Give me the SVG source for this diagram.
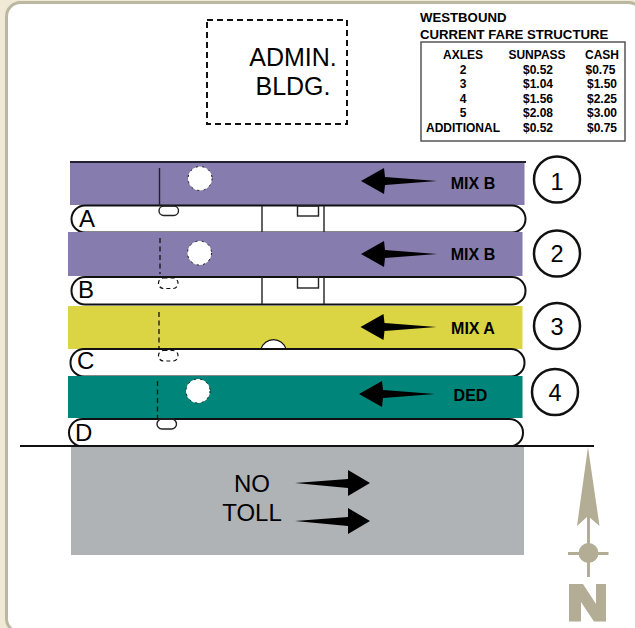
<svg xmlns="http://www.w3.org/2000/svg" width="635" height="628" viewBox="0 0 635 628">
<style>
.road{fill:#fff;stroke:#111;stroke-width:2}
.thin{fill:none;stroke:#222;stroke-width:1.400}
.dash{fill:none;stroke:#111;stroke-width:1.300;stroke-dasharray:5 3.500}
.sdash{fill:none;stroke:#111;stroke-width:1.200;stroke-dasharray:4 3}
.sans{font-family:"Liberation Sans",Arial,sans-serif;fill:#000}
.lbl{font-size:16px;font-weight:bold;text-anchor:middle}
.lane{font-size:24px}
.num{font-size:23.500px;text-anchor:middle}
.big{font-size:25px;text-anchor:middle}
.nt{font-size:24px;text-anchor:middle}
.tb{font-size:12px;font-weight:bold;text-anchor:middle}
.hd{font-size:13.200px;font-weight:bold}
.ci{fill:#fff;stroke:#111;stroke-width:2.500}
.hole{fill:#fff;stroke:#111;stroke-width:1;stroke-dasharray:2 4.500}
</style>
<defs>
<path id="wa" d="M0 0L23-13L24-4L76 0L24 4L23 13Z" fill="#000"/>
<path id="ea" d="M0 0L-22-13L-22-4L-75 0L-22 5L-22 13Z" fill="#000"/>
</defs>
<rect width="635" height="628" fill="#efe9d6"/>
<rect x="6.500" y="2.500" width="636" height="630" rx="14" fill="#fff" stroke="#bcb8a0" stroke-width="3"/>
<g id="admin">
<rect x="207" y="20" width="140" height="104" fill="none" stroke="#111" stroke-width="2" stroke-dasharray="6 4"/>
<text class="sans big" x="293" y="66">ADMIN.</text>
<text class="sans big" x="293" y="95">BLDG.</text>
</g>
<g id="fare-table">
<text class="sans hd" x="420" y="22">WESTBOUND</text>
<text class="sans hd" x="420" y="39">CURRENT FARE STRUCTURE</text>
<rect x="421" y="42" width="204" height="99" fill="#fff" stroke="#555" stroke-width="1.500"/>
<text class="sans tb" x="463" y="59">AXLES</text><text class="sans tb" x="537" y="59">SUNPASS</text><text class="sans tb" x="602" y="59">CASH</text>
<text class="sans tb" x="463" y="74">2</text><text class="sans tb" x="538" y="74">$0.52</text><text class="sans tb" x="600.500" y="74">$0.75</text>
<text class="sans tb" x="463" y="88">3</text><text class="sans tb" x="538" y="88">$1.04</text><text class="sans tb" x="602" y="88">$1.50</text>
<text class="sans tb" x="463" y="103">4</text><text class="sans tb" x="538" y="103">$1.56</text><text class="sans tb" x="602" y="103">$2.25</text>
<text class="sans tb" x="463" y="117">5</text><text class="sans tb" x="538" y="117">$2.08</text><text class="sans tb" x="602" y="117">$3.00</text>
<text class="sans tb" x="463" y="132">ADDITIONAL</text><text class="sans tb" x="538" y="132">$0.52</text><text class="sans tb" x="602" y="132">$0.75</text>
</g>
<g id="lane-1">
<rect x="70" y="162" width="454.500" height="43" fill="#867cad"/>
<path d="M70 162H526" stroke="#222133" stroke-width="2"/>
<rect class="road" x="71.500" y="205.500" width="454" height="27" rx="13.500"/>
<circle class="hole" cx="200" cy="178.500" r="12"/>
<path class="thin" d="M159.500 168V206"/>
<rect class="thin" x="159" y="206" width="19.500" height="9.500" rx="4.700"/>
<path class="thin" d="M262 206V232M324 206V232"/>
<rect class="thin" x="297.500" y="206" width="21" height="10"/>
<text class="sans lane" x="79" y="227">A</text>
<use href="#wa" x="361" y="181"/>
<text class="sans lbl" x="473" y="189">MIX B</text>
<circle class="ci" cx="557" cy="179.500" r="23"/><text class="sans num" x="557" y="190">1</text>
</g>
<g id="lane-2">
<rect x="68" y="232" width="454.500" height="44" fill="#867cad"/>
<rect class="road" x="71.500" y="277" width="454" height="27.500" rx="13.500"/>
<circle class="hole" cx="199.500" cy="253" r="12"/>
<path class="dash" d="M160 238V274"/>
<rect class="sdash" x="158.500" y="278" width="19.500" height="10.500" rx="5"/>
<path class="thin" d="M262 277V304M324 277V304"/>
<rect class="thin" x="297.500" y="277" width="21" height="11"/>
<text class="sans lane" x="78" y="298">B</text>
<use href="#wa" x="361" y="254"/>
<text class="sans lbl" x="473" y="260">MIX B</text>
<circle class="ci" cx="557" cy="253.500" r="23"/><text class="sans num" x="557" y="262">2</text>
</g>
<g id="lane-3">
<rect x="68" y="306" width="454.500" height="43" fill="#dbd443"/>
<path d="M261 349A13 13 0 0 1 286 349Z" fill="#fff" stroke="#111" stroke-width="1.200"/>
<rect class="road" x="70.500" y="349" width="454" height="27.500" rx="13.500"/>
<path class="dash" d="M159 312V348"/>
<rect class="sdash" x="158.500" y="350.500" width="19.500" height="10.500" rx="5"/>
<text class="sans lane" x="77" y="369">C</text>
<use href="#wa" x="360.500" y="327"/>
<text class="sans lbl" x="473" y="333.500">MIX A</text>
<circle class="ci" cx="557" cy="326" r="23"/><text class="sans num" x="557" y="335">3</text>
</g>
<g id="lane-4">
<rect x="68" y="376" width="454.500" height="42" fill="#00857a"/>
<rect class="road" x="69" y="419" width="454" height="27.500" rx="13.500"/>
<circle class="hole" cx="198" cy="391" r="12"/>
<path class="dash" d="M157.500 381V418"/>
<rect class="thin" x="157" y="419" width="19.500" height="10" rx="5"/>
<text class="sans lane" x="75" y="441">D</text>
<use href="#wa" x="359" y="394"/>
<text class="sans lbl" x="470.500" y="401">DED</text>
<circle class="ci" cx="555" cy="392" r="23"/><text class="sans num" x="555" y="401">4</text>
</g>
<g id="no-toll">
<rect x="71" y="447" width="453" height="108" fill="#afb3b6"/>
<text class="sans nt" x="252" y="492">NO</text>
<text class="sans nt" x="252" y="521">TOLL</text>
<use href="#ea" x="370" y="483"/>
<use href="#ea" x="370" y="521"/>
</g>
<g id="connectors">
<path d="M20 446H594" stroke="#111" stroke-width="2" fill="none"/>
</g>
<g id="north" fill="#b2ad94">
<path d="M588 447L599.500 526L588 516L577 526Z"/>
<rect x="587" y="516" width="3" height="61"/>
<rect x="568" y="552" width="40.500" height="3"/>
<circle cx="588.500" cy="553" r="10"/>
<path d="M569 584H583L596 604V584H606V621.500H594L581 602V621.500H569Z"/>
</g>
</svg>
